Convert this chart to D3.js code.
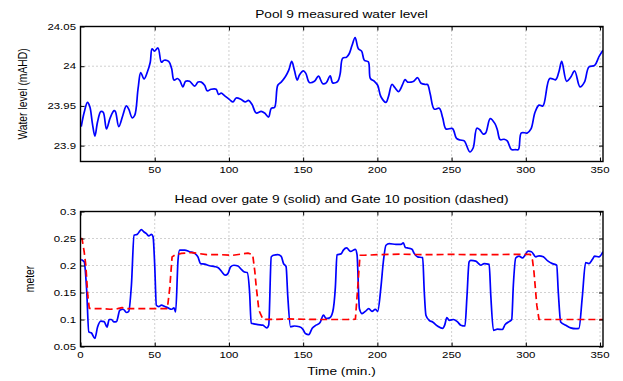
<!DOCTYPE html>
<html>
<head>
<meta charset="utf-8">
<script src="https://cdn.jsdelivr.net/npm/d3@7"></script>
<style>
  body { margin: 0; background: #fff; }
  svg { display: block; font-family: "Liberation Sans", Arial, sans-serif; }
</style>
</head>
<body>
<svg id="chart" width="623" height="381"></svg>
<script>
const WIDTH = 623;
const HEIGHT = 381;
const STRETCH = 1.33; // the picture is stretched sideways

// Pool 9 measured water level [time (min), mAHD]
const poolLevel = [
  [0.5, 23.924], [2.5, 23.942], [4.7, 23.9545], [6.3, 23.949], [8, 23.928], [9.7, 23.912],
  [11.5, 23.93], [13.7, 23.943], [15.3, 23.942], [17.5, 23.921], [20, 23.935], [22.6, 23.944],
  [23.5, 23.943], [25.8, 23.924], [28.5, 23.938], [30.9, 23.95], [32.5, 23.946], [34.8, 23.935],
  [36.5, 23.938], [38.8, 23.972], [40.6, 23.992], [42.8, 23.984], [45.1, 23.993], [47, 24.005],
  [48.2, 24.022], [49.8, 24.019], [52.2, 24.023], [54.5, 24.005], [56.3, 24.0075], [59.4, 24.006],
  [61.4, 23.997], [63, 23.9825], [65.3, 23.9845], [66.9, 23.982], [69, 23.974], [70.8, 23.981],
  [73.5, 23.981], [76.9, 23.975], [79.2, 23.98], [81.4, 23.98], [83.6, 23.976], [85.4, 23.969],
  [88, 23.971], [91.4, 23.971], [93, 23.9645], [94.8, 23.966], [97, 23.963], [100.4, 23.958],
  [102.7, 23.955], [104.9, 23.96], [108.3, 23.958], [111, 23.955], [113.2, 23.957], [115.5, 23.952],
  [118.4, 23.941], [121.7, 23.943], [124, 23.941], [126.7, 23.936], [128.5, 23.947], [130.7, 23.948],
  [132.9, 23.976], [135.2, 23.98], [138.1, 23.987], [140.3, 23.995], [142.3, 24.006], [144.1, 23.995],
  [146, 23.9825], [147.5, 23.989], [150.2, 23.994], [151.8, 23.991], [154.2, 23.9795], [157.6, 23.981],
  [160.3, 23.9875], [163.2, 23.978], [165.5, 23.979], [168.2, 23.988], [169.9, 23.979], [173.3, 23.981],
  [174.9, 23.99], [176.6, 24.01], [179.3, 24.0115], [181.1, 24.016], [182.9, 24.026], [185, 24.036],
  [187.2, 24.022], [189.4, 24.019], [191.2, 24.0075], [193.9, 24.0055], [195.3, 23.9845], [198, 23.981],
  [200.2, 23.976], [202.4, 23.9615], [205.8, 23.9545], [207.5, 23.962], [209.8, 23.977], [211.8, 23.973],
  [214.3, 23.968], [217, 23.977], [218.6, 23.983], [220.4, 23.98], [222.7, 23.98], [224.5, 23.981],
  [227.1, 23.9855], [229.4, 23.9785], [232.5, 23.977], [233.8, 23.977], [235.6, 23.965], [238.3, 23.946],
  [241.7, 23.947], [244, 23.935], [246.2, 23.921], [250.6, 23.9215], [253.3, 23.909], [256, 23.907],
  [258.5, 23.906], [262.3, 23.892], [264.5, 23.897], [267, 23.922], [269, 23.92], [271.3, 23.9145],
  [273, 23.916], [276, 23.934], [279.1, 23.928], [280.8, 23.92], [282.7, 23.9075], [285.4, 23.908],
  [287.5, 23.906], [290.3, 23.895], [293, 23.895], [295, 23.895], [297, 23.916], [301, 23.916],
  [303.5, 23.921], [306.2, 23.942], [308.9, 23.951], [311.5, 23.95], [316.1, 23.9845], [320.1, 23.983],
  [322.3, 23.993], [324.2, 24.006], [327.5, 23.981], [330.2, 23.986], [332.9, 23.994], [336.5, 23.974],
  [339.5, 23.98], [342.5, 23.999], [346.4, 24.001], [349.3, 24.012], [352, 24.02]
];

// Head over gate 9 [time (min), meter]
const gateHead = [
  [0.5, 0.211], [1.1, 0.21], [2.5, 0.207], [4.1, 0.157], [5.6, 0.077], [7.4, 0.075], [9.65, 0.065],
  [11.5, 0.086], [13.7, 0.097], [15.9, 0.096], [17.9, 0.086], [19.3, 0.1], [20.8, 0.1], [22.6, 0.0955],
  [24.2, 0.096], [26.5, 0.117], [28.7, 0.119], [31, 0.113], [32.5, 0.115], [34.3, 0.1635], [36.1, 0.256],
  [38.3, 0.258], [39.5, 0.262], [41, 0.2665], [42.8, 0.262], [44.4, 0.259], [46, 0.255], [47.8, 0.2575],
  [48.9, 0.253], [50, 0.2], [51.1, 0.1265], [52.7, 0.124], [54.5, 0.1265], [56.8, 0.124], [59, 0.1215],
  [61.2, 0.119], [63, 0.1215], [64.1, 0.114], [65.7, 0.21], [66.8, 0.2285], [70.2, 0.2285], [73.5, 0.2255],
  [76.9, 0.2225], [79.1, 0.216], [80.9, 0.2035], [83.6, 0.2025], [87, 0.1995], [90.4, 0.198], [93, 0.1955],
  [95.3, 0.188], [97.5, 0.182], [99.3, 0.185], [101.1, 0.1975], [103.4, 0.2005], [106.1, 0.199],
  [108.3, 0.193], [110.5, 0.188], [112.3, 0.187], [113.9, 0.151], [115, 0.093], [116.1, 0.0925],
  [119.5, 0.0905], [122.8, 0.0895], [125.5, 0.0845], [126.8, 0.09], [128.5, 0.216], [130, 0.219],
  [132.9, 0.22], [135.2, 0.217], [136.8, 0.2035], [138.5, 0.198], [139.6, 0.145], [141.5, 0.0865],
  [144.1, 0.088], [147.5, 0.0865], [149.8, 0.082], [151.5, 0.074], [153.8, 0.072], [156.1, 0.084],
  [158.7, 0.0895], [161.4, 0.0945], [163.7, 0.108], [165.5, 0.102], [167.8, 0.103], [169.9, 0.114],
  [171.7, 0.16], [172.8, 0.22], [175.5, 0.2215], [177.1, 0.2285], [179.3, 0.2325], [181.9, 0.226],
  [185.2, 0.23], [186.3, 0.22], [187.9, 0.12], [189.7, 0.111], [191.9, 0.115], [194.2, 0.12],
  [196.4, 0.115], [198.6, 0.119], [200.2, 0.115], [202.4, 0.16], [204, 0.2065], [205.8, 0.2375],
  [208, 0.2405], [212.5, 0.239], [215.9, 0.239], [217.5, 0.242], [218.8, 0.2335], [221.1, 0.232],
  [223.3, 0.23], [224.8, 0.2225], [227.1, 0.216], [230.5, 0.2145], [231.6, 0.151], [232.7, 0.108],
  [234.9, 0.0985], [237.2, 0.0955], [240.5, 0.088], [243.9, 0.0835], [245.4, 0.09], [246.8, 0.1035],
  [248.4, 0.0985], [251.3, 0.1], [254, 0.0955], [256.2, 0.0895], [259, 0.088], [260.3, 0.14],
  [261.8, 0.2065], [262.9, 0.2095], [266.3, 0.208], [269.7, 0.2005], [271.9, 0.2035], [275.3, 0.202],
  [276.4, 0.145], [278.2, 0.08], [280.9, 0.082], [284.2, 0.0815], [286, 0.0905], [289, 0.0965],
  [290.5, 0.1], [291.6, 0.1635], [293.2, 0.214], [295.4, 0.2175], [297.7, 0.214], [299.3, 0.2185],
  [301.5, 0.2265], [303.8, 0.2255], [306.7, 0.216], [308.9, 0.218], [311.8, 0.216], [315, 0.208],
  [317.9, 0.2035], [320.8, 0.2005], [321.9, 0.15], [323.5, 0.0955], [326.9, 0.0895], [330.2, 0.0845],
  [333.6, 0.083], [335.8, 0.0835], [338, 0.14], [340.3, 0.2055], [342.5, 0.2035], [344.8, 0.211],
  [346.4, 0.2175], [349.3, 0.216], [352, 0.2255]
];

// Gate 10 position [time (min), meter]
const gatePosition = [
  [0, 0.25], [1, 0.25], [2.5, 0.225], [3.6, 0.2], [4.9, 0.145], [5.9, 0.121], [7, 0.12], [15, 0.12],
  [20, 0.119], [25, 0.12], [28, 0.122], [32, 0.12], [40, 0.12], [50, 0.12], [58.5, 0.12], [60.1, 0.1575],
  [61.7, 0.216], [63.5, 0.219], [68, 0.2225], [75, 0.224], [85, 0.22], [95, 0.22], [102.7, 0.219],
  [108, 0.221], [112.8, 0.223], [116, 0.22], [117.4, 0.19], [118.4, 0.16], [120.2, 0.117], [122.9, 0.1005],
  [130, 0.1], [140, 0.101], [150, 0.1005], [160, 0.1], [170, 0.1], [180, 0.1], [185.2, 0.1005],
  [186.7, 0.157], [188.3, 0.219], [191.2, 0.219], [200, 0.22], [215, 0.221], [230, 0.22], [250, 0.2205],
  [270, 0.22], [290, 0.2205], [303, 0.2205], [304.5, 0.21], [305.5, 0.188], [307.4, 0.1265],
  [308.9, 0.1], [320, 0.1], [335, 0.1], [352, 0.1]
];

const topXTicks = [50, 100, 150, 200, 250, 300, 350];
const bottomXTicks = [0, 50, 100, 150, 200, 250, 300, 350];
const topYTicks = [23.9, 23.95, 24, 24.05];
const bottomYTicks = [0.05, 0.1, 0.15, 0.2, 0.25, 0.3];

const svg = d3.select("#chart");

// stretched text helper
function label(g, x, y, text, size, anchor, rotate) {
  return g.append("text")
    .attr("transform", `translate(${x},${y}) scale(${STRETCH},1)` + (rotate ? ` rotate(${rotate})` : ""))
    .attr("text-anchor", anchor)
    .attr("font-size", size)
    .attr("fill", "#000")
    .text(text);
}

function drawPanel(p) {
  const x = d3.scaleLinear().domain([0, 352]).range([80.5, 603]);
  const y = d3.scaleLinear().domain(p.yDomain).range([p.bottom, p.top]);
  const g = svg.append("g");

  g.append("rect")
    .attr("x", 80.5).attr("y", p.top)
    .attr("width", 603 - 80.5).attr("height", p.bottom - p.top)
    .attr("fill", "#fff");

  // dotted grid
  g.selectAll(".gx").data(p.xTicks.filter(t => t > 0 && t < 352)).enter()
    .append("line")
    .attr("x1", d => x(d)).attr("x2", d => x(d))
    .attr("y1", p.top).attr("y2", p.bottom)
    .attr("stroke", "#8a8a8a").attr("stroke-width", 0.8).attr("stroke-dasharray", "1,3");
  g.selectAll(".gy").data(p.yTicks.filter(t => y(t) > p.top + 1 && y(t) < p.bottom - 1)).enter()
    .append("line")
    .attr("x1", 80.5).attr("x2", 603)
    .attr("y1", d => y(d)).attr("y2", d => y(d))
    .attr("stroke", "#8a8a8a").attr("stroke-width", 0.8).attr("stroke-dasharray", "1,3");

  const clipId = "clip" + p.id;
  svg.append("clipPath").attr("id", clipId)
    .append("rect").attr("x", 80.5).attr("y", p.top)
    .attr("width", 603 - 80.5).attr("height", p.bottom - p.top);

  p.series.forEach(s => {
    const line = d3.line()
      .x(d => x(d[0])).y(d => y(d[1]))
      .curve(s.curve);
    g.append("path")
      .datum(s.data)
      .attr("clip-path", `url(#${clipId})`)
      .attr("d", line)
      .attr("fill", "none")
      .attr("stroke", s.color)
      .attr("stroke-width", 1.7)
      .attr("stroke-linejoin", "round")
      .attr("stroke-dasharray", s.dash || null);
  });

  // axes: inward ticks on all four sides, no domain path
  const ax = (gen, tx, ty) => g.append("g").attr("transform", `translate(${tx},${ty})`).call(gen)
    .call(a => a.select(".domain").remove())
    .call(a => a.selectAll("text").remove())
    .call(a => a.selectAll("line").attr("stroke", "#000"));
  ax(d3.axisBottom(x).tickValues(p.xTicks).tickSize(-4), 0, p.bottom);
  ax(d3.axisTop(x).tickValues(p.xTicks).tickSize(-4), 0, p.top);
  ax(d3.axisLeft(y).tickValues(p.yTicks).tickSize(-4), 80.5, 0);
  ax(d3.axisRight(y).tickValues(p.yTicks).tickSize(-4), 603, 0);

  g.append("rect")
    .attr("x", 80.5).attr("y", p.top)
    .attr("width", 603 - 80.5).attr("height", p.bottom - p.top)
    .attr("fill", "none").attr("stroke", "#000").attr("stroke-width", 1.4);

  // tick labels
  p.xTicks.forEach(t => label(g, x(t), p.bottom + 11, String(t), 8.6, "middle"));
  p.yTicks.forEach(t => label(g, 76, y(t) + 3, String(t), 8.6, "end"));

  label(g, 341.5, p.top - 8.3, p.title, 10.3, "middle");
  label(g, p.yLabelX, (p.top + p.bottom) / 2, p.yLabel, 10.3, "middle", -90);
}

drawPanel({
  id: "top", top: 26.5, bottom: 161.5, yDomain: [23.88, 24.05],
  xTicks: topXTicks, yTicks: topYTicks,
  title: "Pool 9 measured water level",
  yLabel: "Water level (mAHD)", yLabelX: 27.3,
  series: [{ data: poolLevel, color: "#0000ff", curve: d3.curveCatmullRom.alpha(0.5) }]
});

drawPanel({
  id: "bottom", top: 211.5, bottom: 346.5, yDomain: [0.05, 0.3],
  xTicks: bottomXTicks, yTicks: bottomYTicks,
  title: "Head over gate 9 (solid) and Gate 10 position (dashed)",
  yLabel: "meter", yLabelX: 34.3,
  series: [
    { data: gateHead, color: "#0000ff", curve: d3.curveMonotoneX },
    { data: gatePosition, color: "#ff0000", curve: d3.curveLinear, dash: "7,4" }
  ]
});

label(svg, 341.5, 375, "Time (min.)", 10.3, "middle");
</script>
</body>
</html>
